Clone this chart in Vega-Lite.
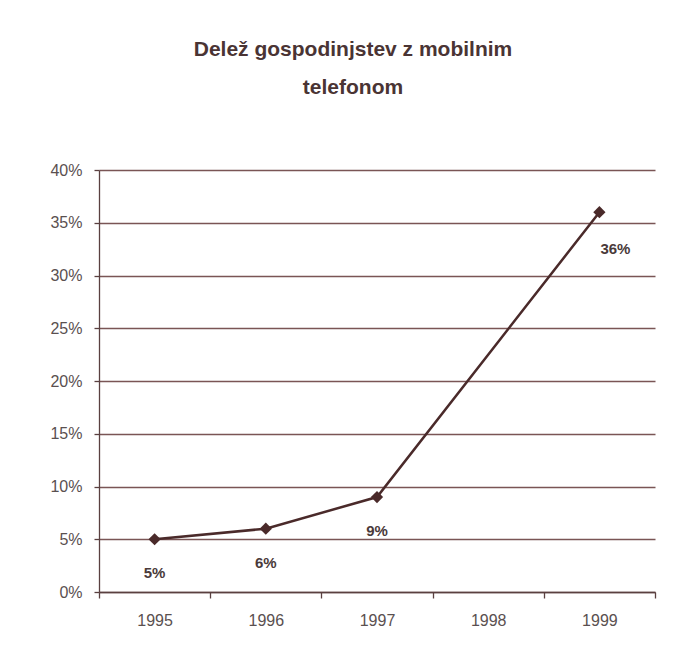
{
  "$schema": "https://vega.github.io/schema/vega-lite/v6.json",
  "autosize": {"type": "none"},
  "width": 556,
  "height": 422,
  "padding": {"left": 99, "top": 170, "right": 45, "bottom": 71},
  "background": "white",
  "title": {
    "text": ["Delež gospodinjstev z mobilnim", "telefonom"],
    "anchor": "middle",
    "dx": -24,
    "offset": 64,
    "fontSize": 21,
    "fontWeight": "bold",
    "font": "Liberation Sans",
    "color": "#4a3434",
    "lineHeight": 38
  },
  "data": {
    "values": [
      {"year": "1995", "share": 0.05, "label": "5%"},
      {"year": "1996", "share": 0.06, "label": "6%"},
      {"year": "1997", "share": 0.09, "label": "9%"},
      {"year": "1999", "share": 0.36, "label": "36%"}
    ]
  },
  "config": {
    "view": {"stroke": null},
    "axis": {
      "labelFont": "Liberation Sans",
      "labelFontSize": 16,
      "labelColor": "#5a5050",
      "domainColor": "#5a4040",
      "tickColor": "#5a4040",
      "gridColor": "#7a5555",
      "gridOpacity": 1,
      "gridWidth": 1.3,
      "domainWidth": 1.3,
      "tickWidth": 1.3,
      "title": null
    }
  },
  "encoding": {
    "x": {
      "field": "year",
      "type": "ordinal",
      "scale": {"type": "band", "domain": ["1995", "1996", "1997", "1998", "1999"], "paddingInner": 0, "paddingOuter": 0},
      "axis": {"labelAngle": 0, "tickBand": "extent", "tickSize": 6, "labelPadding": 14, "grid": false}
    },
    "y": {
      "field": "share",
      "type": "quantitative",
      "scale": {"domain": [0, 0.4], "nice": false},
      "axis": {"values": [0, 0.05, 0.1, 0.15, 0.2, 0.25, 0.3, 0.35, 0.4], "format": ".0%", "tickSize": 5, "labelPadding": 12, "grid": true}
    }
  },
  "layer": [
    {"mark": {"type": "line", "color": "#4a2a2a", "strokeWidth": 2.5}},
    {"mark": {"type": "point", "shape": "diamond", "filled": true, "size": 150, "color": "#4a2a2a", "opacity": 1}},
    {
      "transform": [{"filter": "datum.year != '1999'"}],
      "mark": {"type": "text", "dy": 34, "fontSize": 15, "fontWeight": "bold", "font": "Liberation Sans", "color": "#4a3a3a"},
      "encoding": {"text": {"field": "label"}}
    },
    {
      "transform": [{"filter": "datum.year == '1999'"}],
      "mark": {"type": "text", "dy": 37, "dx": 16, "fontSize": 15, "fontWeight": "bold", "font": "Liberation Sans", "color": "#4a3a3a"},
      "encoding": {"text": {"field": "label"}}
    }
  ]
}
